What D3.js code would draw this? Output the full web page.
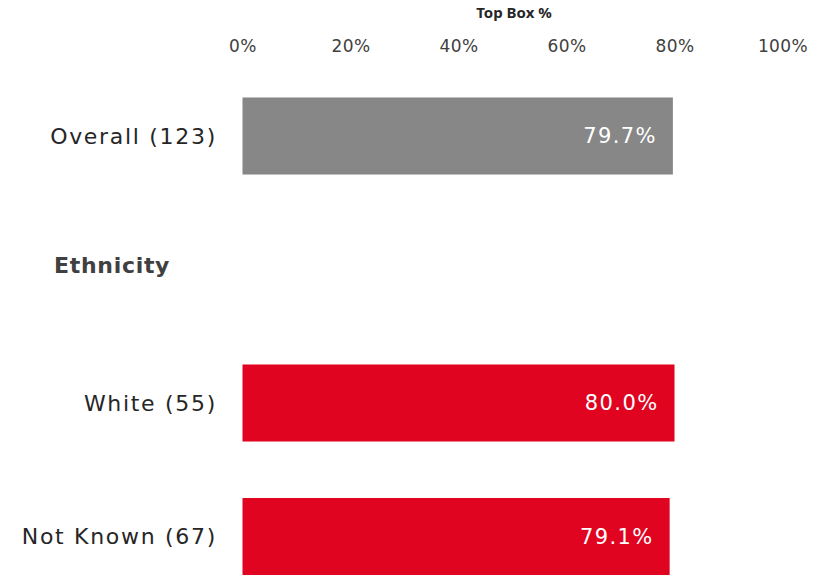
<!DOCTYPE html>
<html>
<head>
<meta charset="utf-8">
<script src="https://cdn.jsdelivr.net/npm/d3@7"></script>
<style>
  html, body { margin: 0; padding: 0; background: #fff; }
  svg { display: block; font-family: "DejaVu Sans", "Noto Sans", sans-serif; }
</style>
</head>
<body>
<svg id="chart" width="833" height="576"></svg>
<script>
const categories = ["Overall (123)", "Ethnicity", "White (55)", "Not Known (67)"];
const values = [79.7, null, 80.0, 79.1];
const barColors = ["#878787", null, "#E00420", "#E00420"];
const headerRows = ["Ethnicity"];
const tickValues = [0, 20, 40, 60, 80, 100];
const axisTitle = "Top Box %";

const svg = d3.select("#chart");
const x = d3.scaleLinear().domain([0, 100]).range([242.5, 782.5]);
const pi = 0.423;
const y = d3.scaleBand().domain(categories).range([69.25, 603.25])
  .paddingInner(pi).paddingOuter(pi / 2);

// axis title
svg.append("text")
  .attr("x", 514).attr("y", 18)
  .attr("text-anchor", "middle")
  .attr("font-size", 15).attr("font-weight", "bold").attr("fill", "#262626")
  .attr("font-family", "\"Noto Sans\", sans-serif")
  .text(axisTitle);

// top axis (labels only)
const axis = d3.axisTop(x).tickValues(tickValues).tickFormat(d => d + "%").tickSize(0).tickPadding(0);
const gAxis = svg.append("g").attr("transform", "translate(0,52)").call(axis);
gAxis.select(".domain").remove();
gAxis.selectAll("text").attr("font-size", 17).attr("fill", "#404040")
  .attr("font-family", "\"DejaVu Sans\", sans-serif")
  .attr("letter-spacing", 0.4);

const data = categories.map((c, i) => ({ c, v: values[i], color: barColors[i], header: headerRows.includes(c) }));

// bars
svg.selectAll("rect.bar").data(data.filter(d => d.v != null)).join("rect")
  .attr("class", "bar")
  .attr("x", x(0))
  .attr("y", d => y(d.c))
  .attr("width", d => x(d.v) - x(0))
  .attr("height", y.bandwidth())
  .attr("fill", d => d.color);

// value labels
svg.selectAll("text.val").data(data.filter(d => d.v != null)).join("text")
  .attr("class", "val")
  .attr("x", d => x(d.v) - 16)
  .attr("y", d => y(d.c) + y.bandwidth() / 2)
  .attr("dy", "0.35em")
  .attr("text-anchor", "end")
  .attr("font-size", 21).attr("fill", "#ffffff")
  .attr("letter-spacing", 1.4)
  .text(d => d.v.toFixed(1) + "%");

// category labels
svg.selectAll("text.cat").data(data.filter(d => !d.header)).join("text")
  .attr("class", "cat")
  .attr("x", 217)
  .attr("y", d => y(d.c) + y.bandwidth() / 2)
  .attr("dy", "0.35em")
  .attr("text-anchor", "end")
  .attr("font-size", 22).attr("fill", "#262626")
  .attr("letter-spacing", 1.7)
  .text(d => d.c);

// header labels
svg.selectAll("text.hdr").data(data.filter(d => d.header)).join("text")
  .attr("class", "hdr")
  .attr("x", 54)
  .attr("y", d => y(d.c) + y.bandwidth() / 2 - 4)
  .attr("dy", "0.35em")
  .attr("text-anchor", "start")
  .attr("font-size", 22).attr("font-weight", "bold").attr("fill", "#404040")
  .attr("letter-spacing", 0.7)
  .text(d => d.c);
</script>
</body>
</html>
